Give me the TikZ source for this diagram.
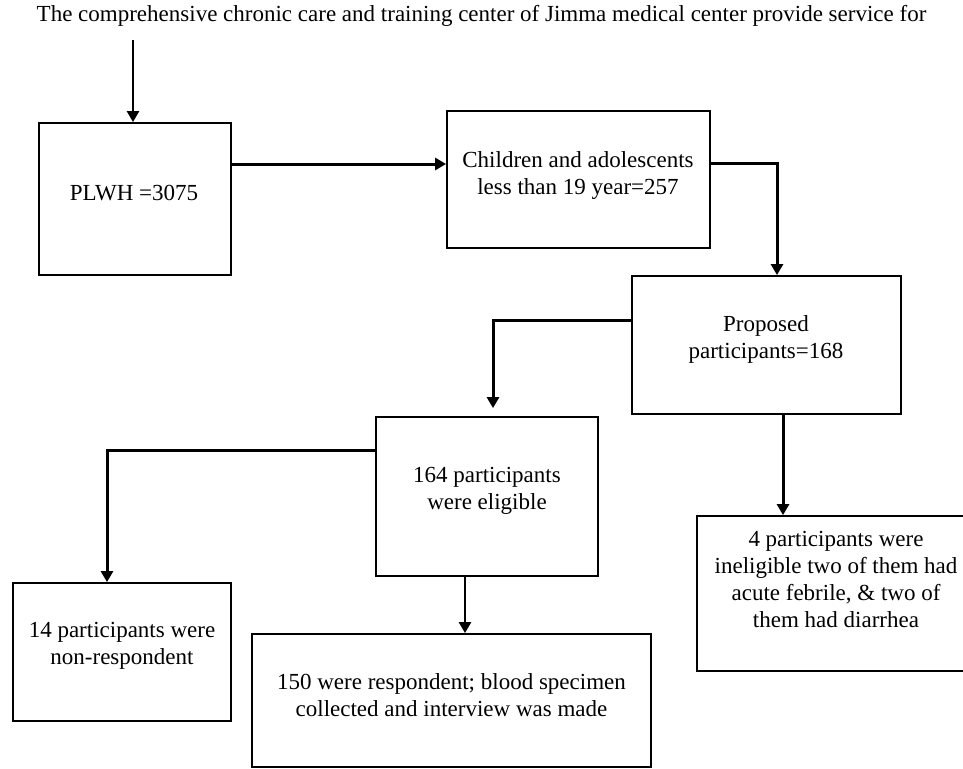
\documentclass[tikz,border=0pt]{standalone}
\usepackage{fontspec}
\setmainfont{Liberation Serif}
\usetikzlibrary{arrows.meta}
\begin{document}
\begin{tikzpicture}[x=1pt,y=-1pt,
  box/.style={draw, line width=1.8pt, inner sep=0pt},
  txt/.style={inner sep=0pt, align=center, font=\fontsize{23}{27}\selectfont},
  conn/.style={line width=3pt, -{Triangle[length=11pt,width=12pt]}},
  thinconn/.style={line width=2.4pt, -{Triangle[length=11pt,width=12pt]}}]
\useasboundingbox (0,0) rectangle (963,768);

\node[txt] (title) at (481.5,16.6) {\strut The comprehensive chronic care and training center of Jimma medical center provide service for};

\node[box, minimum width=192pt, minimum height=152pt] (plwh) at (135,199) {};
\node[txt] (plwhT) at (134,194.6) {\strut PLWH =3075};

\node[box, minimum width=263pt, minimum height=137pt] (child) at (578.5,179.5) {};
\node[txt] (childT) at (578,176) {\strut Children and adolescents\\\strut less than 19 year=257};

\node[box, minimum width=269pt, minimum height=138pt] (prop) at (766.5,345) {};
\node[txt] (propT) at (766,340) {\strut Proposed\\\strut participants=168};

\node[box, minimum width=222pt, minimum height=159pt] (elig) at (487,496.5) {};
\node[txt] (eligT) at (487,491) {\strut 164 participants\\\strut were eligible};

\node[box, minimum width=218pt, minimum height=138pt] (nonr) at (122,652) {};
\node[txt] (nonrT) at (122,646) {\strut 14 participants were\\\strut non-respondent};

\node[box, minimum width=399pt, minimum height=133pt] (resp) at (451.5,700.5) {};
\node[txt] (respT) at (451.5,698) {\strut 150 were respondent; blood specimen\\\strut collected and interview was made};

\node[box, minimum width=278pt, minimum height=155pt] (inel) at (836,593.5) {};
\node[txt] (inelT) at (836,582) {\strut 4 participants were\\\strut ineligible two of them had\\\strut acute febrile, \& two of\\\strut them had diarrhea};

\coordinate (t0) at (133,40);
\coordinate (h164) at (0,164);
\coordinate (h163) at (0,163);
\coordinate (v777) at (777,0);
\coordinate (h320) at (0,320);
\coordinate (v493) at (493,0);
\coordinate (h450) at (0,450);
\coordinate (v107) at (107,0);
\coordinate (v465) at (465,0);
\coordinate (v783) at (783,0);

\draw[thinconn] (t0) -- (t0 |- plwh.north);
\draw[conn] (plwh.east |- h164) -- (child.west |- h164);
\draw[conn] (child.east |- h163) -| (v777 |- prop.north);
\draw[conn, shorten >=8pt] (prop.west |- h320) -| (v493 |- elig.north);
\draw[conn] (elig.west |- h450) -| (v107 |- nonr.north);
\draw[thinconn] (v465 |- elig.south) -- (v465 |- resp.north);
\draw[conn] (v783 |- prop.south) -- (v783 |- inel.north);
\end{tikzpicture}
\end{document}
